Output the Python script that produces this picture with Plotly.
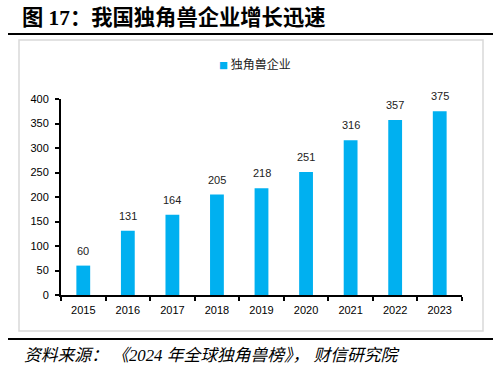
import plotly.graph_objects as go

years = ["2015", "2016", "2017", "2018", "2019", "2020", "2021", "2022", "2023"]
counts = [60, 131, 164, 205, 218, 251, 316, 357, 375]
series_name = "独角兽企业"
title_text = "图 17：我国独角兽企业增长迅速"
source_text = "资料来源： 《2024 年全球独角兽榜》， 财信研究院"
y_ticks = [0, 50, 100, 150, 200, 250, 300, 350, 400]

BLUE = "#00B0F0"
W, H = 500, 371
L, R, T, B = 61, 38, 99, 76
pw, ph = W - L - R, H - T - B


def px(x):
    return (x - L) / pw


def py(y):
    return (H - B - y) / ph


fig = go.Figure()
fig.add_trace(go.Bar(x=years, y=counts, name=series_name, marker_color=BLUE,
                     marker_line_width=0, showlegend=False))

for i, v in enumerate(counts):
    fig.add_annotation(x=i, y=v, text=str(v), showarrow=False, yanchor="middle",
                       yshift=15, font=dict(size=11, color="#222222",
                                            family="Liberation Sans, Arial, sans-serif"))

# legend (swatch + series name)
fig.add_annotation(xref="paper", yref="paper", x=px(217), y=py(64), xanchor="left",
                   yanchor="middle", showarrow=False,
                   text="<span style='color:" + BLUE + ";font-size:9px'>■</span> " + series_name,
                   font=dict(size=12, color="#222222", family="Noto Sans CJK SC, sans-serif"))

# frame and rules
fig.add_shape(type="rect", xref="paper", yref="paper", x0=px(19), x1=px(483),
              y0=py(40), y1=py(331), line=dict(color="#D9D9D9", width=1.5), layer="below")
fig.add_shape(type="line", xref="paper", yref="paper", x0=px(8), x1=px(493),
              y0=py(34), y1=py(34), line=dict(color="#000000", width=2.2))
fig.add_shape(type="line", xref="paper", yref="paper", x0=px(8), x1=px(493),
              y0=py(339), y1=py(339), line=dict(color="#000000", width=2.2))

fig.add_annotation(xref="paper", yref="paper", x=px(20), y=py(17), xanchor="left",
                   yanchor="middle", showarrow=False, text="<b>" + title_text + "</b>",
                   font=dict(size=21.3, color="#000000",
                             family="Liberation Serif, Noto Sans CJK SC, serif"))
fig.add_annotation(xref="paper", yref="paper", x=px(22), y=py(355), xanchor="left",
                   yanchor="middle", showarrow=False, text="<i>" + source_text + "</i>",
                   font=dict(size=16.8, color="#000000",
                             family="Liberation Serif, Noto Sans CJK SC, serif"))

fig.update_layout(
    width=W, height=H,
    margin=dict(l=L, r=R, t=T, b=B, pad=0),
    paper_bgcolor="white", plot_bgcolor="white",
    bargap=0.69,
    showlegend=False,
    font=dict(family="Liberation Sans, Arial, sans-serif", size=11, color="#000000"),
)
fig.update_xaxes(type="category", range=[-0.5, len(years) - 0.5], showline=True,
                 linecolor="#000000", linewidth=2,
                 ticks="outside", tickson="boundaries", ticklen=4, tickwidth=1.5,
                 tickcolor="#000000", showgrid=False, zeroline=False,
                 tickfont=dict(size=11, color="#000000"), ticklabelstandoff=4)
fig.update_yaxes(range=[0, 400], tickvals=y_ticks, showline=True, linecolor="#000000",
                 linewidth=2, ticks="outside", ticklen=4, tickwidth=1.5, tickcolor="#000000",
                 showgrid=False, zeroline=False, tickfont=dict(size=11, color="#000000"),
                 ticklabelstandoff=4)

fig.write_html("out.html", config={"displayModeBar": False},
               post_script="document.body.style.margin='0';")
